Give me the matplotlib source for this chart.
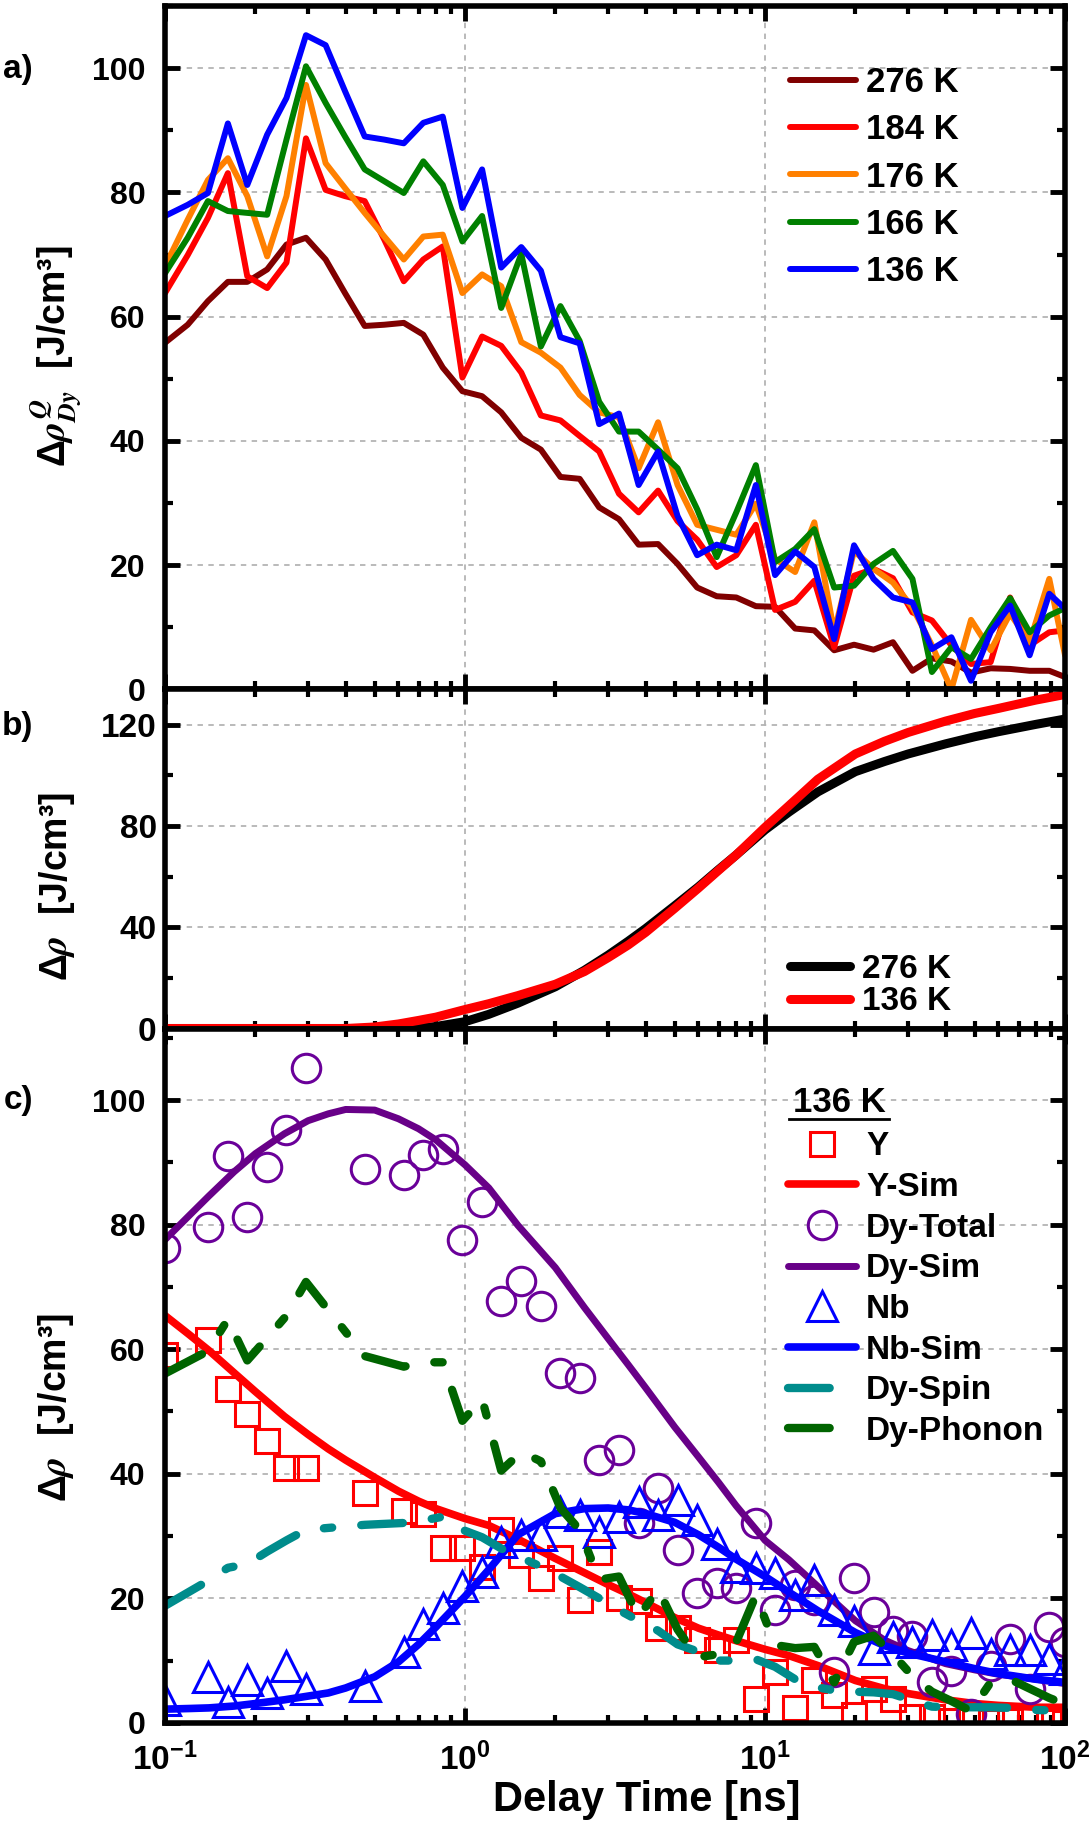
import matplotlib
matplotlib.use('Agg')
import matplotlib.pyplot as plt
import numpy as np
from matplotlib.ticker import MultipleLocator, LogLocator, NullFormatter, FixedLocator

nan = np.nan

## 数据
# a) 各温度下的 Dy 能量密度 (ns, J/cm^3)
t_a = [0.10, 0.119, 0.139, 0.162, 0.188, 0.219, 0.254, 0.295, 0.343, 0.398,
       0.463, 0.538, 0.625, 0.726, 0.843, 0.98, 1.14, 1.32, 1.54, 1.79,
       2.08, 2.41, 2.80, 3.26, 3.79, 4.40, 5.11, 5.94, 6.90, 8.02,
       9.32, 10.8, 12.6, 14.6, 17.0, 19.8, 23.0, 26.7, 31.0, 36.0,
       41.8, 48.6, 56.5, 65.6, 76.2, 88.6, 100.0]

rho_276 = [55.8, 58.7, 62.5, 65.6, 65.6, 67.6, 71.6, 72.7, 69.2, 63.8,
           58.5, 58.7, 59.0, 57.1, 51.8, 48.0, 47.2, 44.6, 40.5, 38.6,
           34.2, 33.9, 29.3, 27.4, 23.3, 23.4, 20.2, 16.4, 15.0, 14.8,
           13.4, 13.3, 9.8, 9.5, 6.3, 7.2, 6.4, 7.6, 3.0, 5.0,
           4.5, 2.7, 3.4, 3.3, 3.0, 3.0, 2.0]
rho_184 = [63.8, 69.9, 75.9, 83.1, 66.5, 64.6, 68.7, 88.7, 80.4, 79.4,
           78.6, 72.4, 65.7, 69.2, 71.3, 50.2, 56.8, 55.3, 51.0, 44.1,
           43.3, 40.8, 38.3, 31.5, 28.5, 32.0, 27.1, 24.1, 19.7, 21.6,
           26.5, 12.8, 14.1, 17.5, 6.8, 18.3, 19.4, 17.9, 12.4, 11.1,
           7.1, 4.1, 4.4, 14.8, 7.1, 9.2, 9.5]
rho_176 = [68.1, 75.6, 82.0, 85.5, 79.4, 69.7, 79.4, 97.3, 84.7, 80.7,
           76.7, 72.9, 69.2, 72.9, 73.2, 63.8, 66.8, 64.9, 55.9, 54.2,
           51.8, 47.4, 44.6, 43.8, 35.6, 43.0, 32.9, 26.5, 25.7, 24.9,
           29.9, 21.0, 18.9, 26.9, 9.2, 22.3, 19.4, 17.2, 13.2, 7.1,
           0.0, 11.2, 6.3, 12.2, 7.6, 17.8, 5.5]
rho_166 = [67.0, 72.7, 78.6, 77.0, 76.7, 76.4, 88.5, 100.3, 94.4, 89.0,
           83.7, 81.8, 79.9, 85.0, 81.2, 72.1, 76.2, 61.4, 70.1, 55.2,
           61.7, 56.1, 46.3, 41.5, 41.5, 38.6, 35.6, 29.0, 21.3, 28.5,
           36.1, 20.5, 22.6, 25.8, 16.4, 16.7, 20.2, 22.3, 17.8, 2.8,
           6.8, 4.9, 10.0, 14.7, 9.2, 11.9, 13.1]
rho_136 = [76.2, 78.0, 79.9, 91.1, 81.2, 89.3, 95.2, 105.3, 103.7, 96.3,
           89.0, 88.5, 87.9, 91.2, 92.2, 77.5, 83.7, 67.9, 71.2, 67.4,
           56.7, 55.7, 42.7, 44.4, 32.9, 38.3, 27.9, 21.6, 23.3, 22.4,
           32.9, 18.4, 22.2, 19.7, 8.1, 23.2, 17.8, 14.8, 14.0, 6.5,
           8.4, 1.4, 9.2, 13.5, 5.5, 15.4, 13.0]
labels_a = ['276 K', '184 K', '176 K', '166 K', '136 K']
colors_a = ['#800000', '#ff0000', '#ff8000', '#008000', '#0000ff']

# b) 和 c) 模拟曲线的时间点
t_sim = [0.1, 0.12, 0.14, 0.17, 0.2, 0.25, 0.3, 0.35, 0.4, 0.5,
         0.6, 0.7, 0.8, 1.0, 1.2, 1.5, 2.0, 2.5, 3.0, 3.5,
         4.0, 5.0, 6.0, 7.0, 8.0, 10, 12, 15, 20, 25,
         30, 40, 50, 60, 80, 100]

# b) 总能量密度
b_276 = [0, 0, 0, 0, 0, 0, 0, 0, 0, 0,
         0.0, 0.2, 0.8, 2.7, 5.6, 10.0, 16.5, 23.0, 29.0, 34.5,
         39.5, 48.5, 56.0, 62.8, 68.5, 78.5, 85.5, 93.5, 101.5, 105.5,
         108.5, 112.5, 115.3, 117.3, 120.2, 122.3]
b_136 = [0, 0, 0, 0, 0, 0, 0, 0, 0, 0.6,
         1.8, 3.2, 4.5, 7.5, 9.8, 13.0, 17.5, 22.5, 28.0, 33.0,
         38.0, 47.5, 55.5, 62.5, 68.5, 79.5, 88.0, 98.5, 108.5, 113.5,
         117.0, 121.5, 124.5, 126.5, 129.8, 132.0]

# c) 136 K 的测量值 (缺测点为 nan)
y_data = [59.1, nan, 61.5, 53.6, 49.6, 45.3, 41.0, 41.0, nan, nan,
          36.9, nan, 34.0, 33.5, 28.1, 28.1, 25.0, 31.0, 27.0, 23.2,
          26.4, 19.8, 27.5, 20.0, 19.5, 15.2, 15.2, 13.3, 11.7, 13.3,
          3.9, 8.2, 2.4, 6.9, 4.5, 1.3, 5.4, 3.8, 1.0, 1.0,
          0.3, 0.5, 0.2, 0.3, 0.8, 0.2, 0.0]
dy_total = [76.2, nan, 79.7, 91.1, 81.2, 89.2, 95.2, 105.2, nan, nan,
            88.9, nan, 88.0, 91.2, 92.2, 77.6, 83.7, 67.8, 71.0, 67.0,
            56.2, 55.4, 42.2, 43.8, 32.1, 37.7, 27.7, 20.8, 22.5, 21.6,
            32.1, 18.2, 22.2, 19.7, 8.1, 23.2, 17.8, 14.8, 14.0, 6.5,
            8.4, 1.4, 9.2, 13.5, 5.5, 15.4, 13.0]
nb_data = [3.7, nan, 7.3, 3.4, 6.9, 4.8, 9.1, 5.5, nan, nan,
           5.9, nan, 11.3, 15.9, 18.4, 22.0, 24.3, 29.1, 30.2, 30.2,
           33.9, 33.4, 30.7, 33.1, 35.5, 33.4, 35.8, 32.6, 28.8, 25.1,
           24.8, 24.0, 20.6, 23.0, 18.2, 16.3, 11.9, 13.8, 13.0, 14.1,
           12.5, 14.4, 11.1, 11.7, 11.7, 10.3, 8.7]
dy_spin = [18.8, nan, 22.8, 24.9, 25.5, 27.5, 29.3, 31.0, nan, nan,
           31.8, nan, 32.1, 32.5, 33.1, 31.0, 29.8, 28.0, 26.5, 25.1,
           23.5, 21.8, 20.0, 18.1, 16.4, 14.8, 12.6, 11.5, 10.0, 10.0,
           10.2, 9.0, 7.0, 5.8, 5.2, 5.0, 4.9, 4.6, 3.6, 2.6,
           2.5, 2.5, 2.5, 2.4, 2.1, 2.0, 2.2]
dy_phonon = [56.1, nan, 59.7, 64.8, 58.2, 61.8, 65.4, 70.8, nan, nan,
             58.9, nan, 57.2, 57.9, 57.9, 48.5, 52.0, 40.5, 43.5, 42.0,
             34.5, 31.0, 23.0, 23.5, 17.0, 21.5, 15.0, 10.5, 11.0, 13.0,
             20.5, 12.5, 12.0, 12.2, 6.5, 13.0, 14.0, 11.0, 7.5, 5.0,
             3.5, 1.9, 6.5, 7.0, 5.5, 4.0, 3.0]

# c) 模拟结果
y_sim = [65.4, 62.4, 59.8, 56.2, 53.2, 49.2, 46.3, 44.0, 42.2, 39.4,
         37.2, 35.6, 34.4, 32.8, 31.7, 29.5, 26.4, 24.1, 22.2, 20.7,
         19.3, 16.9, 15.2, 14.1, 13.2, 11.8, 10.8, 9.2, 6.8, 5.5,
         4.7, 3.7, 3.1, 2.8, 2.5, 2.5]
dy_sim = [77.6, 81.4, 84.6, 88.5, 91.4, 94.6, 96.7, 97.8, 98.5, 98.4,
          97.0, 95.4, 93.6, 89.6, 85.9, 79.9, 73.1, 66.7, 61.7, 57.5,
          53.8, 47.5, 42.7, 38.6, 34.9, 29.3, 26.2, 21.9, 16.4, 13.3,
          11.6, 9.5, 8.5, 7.8, 7.0, 6.3]
nb_sim = [2.2, 2.3, 2.4, 2.7, 3.1, 3.7, 4.3, 4.8, 5.6, 7.4,
          9.8, 12.6, 15.4, 20.3, 24.6, 30.2, 33.6, 34.4, 34.5, 34.2,
          33.6, 32.2, 30.2, 28.2, 26.3, 23.5, 21.0, 18.0, 14.5, 12.4,
          11.2, 9.8, 8.7, 7.9, 7.0, 6.5]

## 字体
plt.rcParams['font.family'] = ['Liberation Sans', 'DejaVu Sans']
plt.rcParams['font.weight'] = 'bold'
plt.rcParams['axes.labelweight'] = 'bold'
plt.rcParams['mathtext.fontset'] = 'custom'
plt.rcParams['mathtext.rm'] = 'Liberation Sans:bold'
plt.rcParams['mathtext.bf'] = 'Liberation Sans:bold'
plt.rcParams['mathtext.it'] = 'STIXGeneral:italic'
narrow = ['Liberation Sans Narrow', 'Liberation Sans']

# 开始画图
fig = plt.figure(figsize=(10.9, 18.21), dpi=100)
L, W = 0.1514, 0.8257
ax_a = fig.add_axes([L, 0.6214, W, 0.3753])
ax_b = fig.add_axes([L, 0.4352, W, 0.1862])
ax_c = fig.add_axes([L, 0.0539, W, 0.3813])


def style_axis(ax, ymax, major, minor, pad):
    ax.set_xscale('log')
    ax.set_xlim(0.1, 100)
    ax.set_ylim(0, ymax)
    ax.yaxis.set_major_locator(MultipleLocator(major))
    ax.yaxis.set_minor_locator(MultipleLocator(minor))
    ax.xaxis.set_major_locator(FixedLocator([0.1, 1, 10, 100]))
    ax.xaxis.set_minor_locator(LogLocator(base=10, subs=np.arange(2, 10)))
    ax.xaxis.set_minor_formatter(NullFormatter())
    ax.tick_params(which='both', direction='in', top=True, right=True,
                   colors='black')
    ax.tick_params(which='major', length=11, width=3.5, pad=pad)
    ax.tick_params(which='minor', length=6, width=3)
    for s in ax.spines.values():
        s.set_linewidth(4)
    ax.grid(True, which='major', color='#b4b4b4',
            linestyle=(0, (3, 3)), linewidth=1.3)
    ax.set_axisbelow(True)


## a) 各温度
style_axis(ax_a, 110, 20, 10, 14)
for vals, c, lab in zip([rho_276, rho_184, rho_176, rho_166, rho_136],
                        colors_a, labels_a):
    ax_a.plot(t_a, vals, color=c, lw=4.3, label=lab, solid_capstyle='round')
ax_a.tick_params(axis='x', labelbottom=False)
ax_a.tick_params(axis='y', labelsize=23)
ax_a.legend(loc='upper left', bbox_to_anchor=(0.694, 0.912), frameon=False,
            fontsize=25, handlelength=1.9, handletextpad=0.3,
            labelspacing=0.41, borderpad=0, borderaxespad=0)

## b) 总能量
style_axis(ax_b, 134, 40, 20, 6)
ax_b.plot(t_sim, b_276, color='black', lw=6.5, label='276 K',
          solid_capstyle='round')
ax_b.plot(t_sim, b_136, color='#ff0000', lw=6.5, label='136 K',
          solid_capstyle='round')
ax_b.tick_params(axis='x', labelbottom=False)
ax_b.tick_params(axis='y', labelsize=24, labelfontfamily=narrow)
ax_b.legend(loc='upper left', bbox_to_anchor=(0.694, 0.221), frameon=False,
            prop={'family': narrow, 'size': 24, 'weight': 'bold'},
            handlelength=1.8, handletextpad=0.36, labelspacing=0.05,
            borderpad=0, borderaxespad=0)

## c) 136 K 的分解
style_axis(ax_c, 111.5, 20, 10, 14)
t = np.array(t_a)


def valid(vals):
    v = np.array(vals)
    m = ~np.isnan(v)
    return t[m], v[m]


ax_c.plot(t_a, y_data, 's', mfc='none', mec='#ff0000', ms=17, mew=2.2,
          label='Y')
ax_c.plot(t_sim, y_sim, color='#ff0000', lw=5.5, label='Y-Sim',
          solid_capstyle='round')
ax_c.plot(t_a, dy_total, 'o', mfc='none', mec='#6a0099', ms=20.5, mew=2.2,
          label='Dy-Total')
ax_c.plot(t_sim, dy_sim, color='#680088', lw=5.0, label='Dy-Sim',
          solid_capstyle='round')
ax_c.plot(t_a, nb_data, '^', mfc='none', mec='#0000ff', ms=22, mew=2.2,
          label='Nb')
ax_c.plot(t_sim, nb_sim, color='#0000ff', lw=5.5, label='Nb-Sim',
          solid_capstyle='round')
ax_c.plot(*valid(dy_spin), color='#008c8c', lw=6, dashes=(5, 3.5, 1, 3.5),
          dash_capstyle='round', label='Dy-Spin')
ax_c.plot(*valid(dy_phonon), color='#006400', lw=6, dashes=(5, 3.5, 1, 3.5),
          dash_capstyle='round', label='Dy-Phonon')

ax_c.set_xticks([0.1, 1, 10, 100],
                [r'$10^{-1}$', r'$10^{0}$', r'$10^{1}$', r'$10^{2}$'])
ax_c.tick_params(axis='x', labelsize=24, pad=14)
ax_c.tick_params(axis='y', labelsize=23)

# 图例标题带下划线
ax_c.text(0.749, 0.893, '136 K', transform=ax_c.transAxes, ha='center',
          va='center', fontsize=25)
ax_c.plot([0.693, 0.804], [0.870, 0.870], transform=ax_c.transAxes,
          color='black', lw=2, clip_on=False)
ax_c.legend(loc='upper left', bbox_to_anchor=(0.692, 0.852), frameon=False,
            fontsize=24, numpoints=1, handlelength=2.05, handletextpad=0.3,
            labelspacing=0.29, borderpad=0, borderaxespad=0)

ax_c.set_xlabel('Delay Time [ns]', fontsize=30)
ax_c.xaxis.set_label_coords(0.5356, -0.082)

# 坐标轴名称
fig.text(0.051, 0.8045, r'$\Delta\rho^{Q}_{Dy}$  [J/cm³]', rotation=90,
         ha='center', va='center', fontsize=27)
fig.text(0.0523, 0.5135, r'$\Delta\rho$  [J/cm³]', rotation=90,
         ha='center', va='center', fontsize=27)
fig.text(0.051, 0.2273, r'$\Delta\rho$  [J/cm³]', rotation=90,
         ha='center', va='center', fontsize=27)

# 子图编号
fig.text(0.003, 0.9618, 'a)', ha='left', va='center', fontsize=24)
fig.text(0.002, 0.601, 'b)', ha='left', va='center', fontsize=24,
         family=narrow)
fig.text(0.003, 0.3958, 'c)', ha='left', va='center', fontsize=24)

fig.savefig('out.png', dpi=100)
